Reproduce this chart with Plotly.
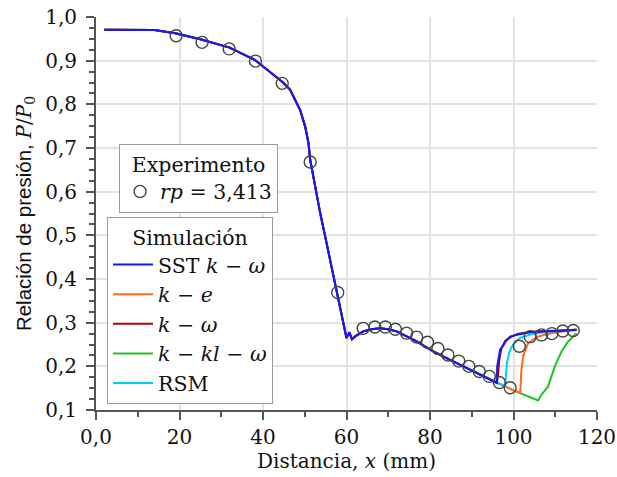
import plotly.graph_objects as go

# ---- Experimental data (rp = 3,413) ----
exp_x = [19.2, 25.4, 31.9, 38.2, 44.6, 51.3, 57.9, 64.0, 66.8, 69.3, 71.7, 74.4, 76.8,
         79.4, 81.9, 84.3, 86.9, 89.3, 91.8, 94.2, 96.6, 99.2, 101.4, 104.0, 106.7,
         109.2, 111.8, 114.3]
exp_y = [0.957, 0.942, 0.927, 0.899, 0.848, 0.668, 0.369, 0.287, 0.290, 0.290, 0.285,
         0.276, 0.267, 0.255, 0.241, 0.226, 0.212, 0.200, 0.188, 0.177, 0.163, 0.151,
         0.246, 0.268, 0.272, 0.275, 0.281, 0.282]

# ---- Common simulated path (all models overlap up to ~96 mm) ----
common_x = [2, 14, 19, 25, 32, 38, 41, 44.8, 46.5, 48.9, 50.1, 50.9, 51.3, 52.5, 53.7,
            54.9, 56.8, 58.4, 60.0, 60.7, 61.3, 62.0, 64.0, 66.0, 68.0, 70.0, 72.0,
            76.8, 80.8, 84.8, 88.8, 92.8, 96.0]
common_y = [0.971, 0.970, 0.963, 0.949, 0.930, 0.902, 0.879, 0.850, 0.833, 0.787, 0.749,
            0.711, 0.673, 0.610, 0.551, 0.497, 0.413, 0.337, 0.265, 0.278, 0.262, 0.268,
            0.280, 0.285, 0.287, 0.285, 0.280, 0.257, 0.234, 0.215, 0.196, 0.178, 0.162]

# ---- Model-specific tails ----
sst_x = [96.1, 96.4, 96.8, 97.6, 98.4, 99.2, 100.8, 104.0, 106.4, 110.0, 115.1]
sst_y = [0.200, 0.219, 0.238, 0.249, 0.261, 0.268, 0.272, 0.278, 0.280, 0.281, 0.283]

kw_x = [96.3, 96.6, 97.1, 98.0, 99.5, 101.0, 104.0, 108.0, 115.1]
kw_y = [0.180, 0.215, 0.240, 0.258, 0.268, 0.274, 0.279, 0.281, 0.284]

rsm_x = [98.0, 98.4, 99.0, 99.6, 100.5, 101.6, 104.0, 108.0, 115.1]
rsm_y = [0.154, 0.207, 0.232, 0.245, 0.258, 0.265, 0.273, 0.279, 0.283]

ke_x = [98.0, 100.0, 101.6, 101.9, 102.3, 103.5, 105.5, 108.0, 112.0, 115.1]
ke_y = [0.154, 0.145, 0.139, 0.192, 0.223, 0.253, 0.267, 0.274, 0.280, 0.285]

kkl_x = [98.0, 100.0, 101.6, 103.5, 105.9, 106.7, 108.3, 109.9, 111.5, 113.1, 115.1]
kkl_y = [0.154, 0.145, 0.139, 0.131, 0.122, 0.135, 0.154, 0.200, 0.234, 0.257, 0.276]

x_tickvals = [0, 20, 40, 60, 80, 100, 120]
x_ticktext = ["0,0", "20", "40", "60", "80", "100", "120"]
y_tickvals = [0.1, 0.2, 0.3, 0.4, 0.5, 0.6, 0.7, 0.8, 0.9, 1.0]
y_ticktext = ["0,1", "0,2", "0,3", "0,4", "0,5", "0,6", "0,7", "0,8", "0,9", "1,0"]

SERIF = "DejaVu Serif"
SANS = "Liberation Sans"

models = [
    # name, tail x, tail y, colour, legend rank (draw order = list order)
    ("<i>k</i> − <i>kl</i> − <i>ω</i>", kkl_x, kkl_y, "#1fc41f", 4),
    ("<i>k</i> − <i>e</i>", ke_x, ke_y, "#ff6a1a", 2),
    ("RSM", rsm_x, rsm_y, "#00d0ff", 5),
    ("<i>k</i> − <i>ω</i>", kw_x, kw_y, "#b00000", 3),
    ("SST <i>k</i> − <i>ω</i>", sst_x, sst_y, "#1515ff", 1),
]

fig = go.Figure()
for name, tx, ty, col, rank in models:
    fig.add_trace(go.Scatter(
        x=common_x + tx, y=common_y + ty, mode="lines", name=name,
        line=dict(color=col, width=2), legendrank=rank, legend="legend"))

fig.add_trace(go.Scatter(
    x=exp_x, y=exp_y, mode="markers", name="<i>rp</i> = 3,413",
    marker=dict(symbol="circle-open", size=12, color="#444444", line=dict(width=1.4)),
    legend="legend2"))

axis_common = dict(
    showline=True, linecolor="#555555", linewidth=2,
    ticks="outside", ticklen=8, tickwidth=1.5, tickcolor="#555555",
    showgrid=True, gridcolor="#e3e3e3", gridwidth=1.5, zeroline=False,
    automargin=False,
    tickfont=dict(family=SERIF, size=20, color="#111111"),
)

fig.update_layout(
    width=617, height=477,
    margin=dict(l=96, r=20, t=17, b=67),
    plot_bgcolor="white", paper_bgcolor="white",
    font=dict(family=SERIF, color="#111111"),
    hovermode=False,
    xaxis=dict(range=[0, 120], tickvals=x_tickvals, ticktext=x_ticktext,
               minor=dict(dtick=10, ticks="outside", ticklen=5, tickcolor="#555555", showgrid=False),
               title=dict(text="Distancia, <i>x</i> (mm)", font=dict(family=SERIF, size=20), standoff=3),
               **axis_common),
    yaxis=dict(range=[0.1, 1.0], tickvals=y_tickvals, ticktext=y_ticktext,
               ticklabelstandoff=5,
               minor=dict(dtick=0.025, tick0=0.1, ticks="outside", ticklen=5, tickcolor="#555555", showgrid=False),
               title=dict(text="Relación de presión, <span style='font-family:DejaVu Serif;font-size:20px'><i>P</i>/<i>P</i><sub>0</sub></span>",
                          font=dict(family=SANS, size=20.5), standoff=8),
               **axis_common),
    legend=dict(
        x=0.022, y=0.491, xanchor="left", yanchor="top",
        bgcolor="white", bordercolor="#9a9a9a", borderwidth=1,
        font=dict(family=SERIF, size=20.5, color="#111111"),
        title=dict(text="Simulación", side="top center", font=dict(family=SERIF, size=20.5)),
        itemwidth=40, tracegroupgap=0,
    ),
    legend2=dict(
        x=0.046, y=0.677, xanchor="left", yanchor="top",
        bgcolor="white", bordercolor="#9a9a9a", borderwidth=1,
        font=dict(family=SERIF, size=20.5, color="#111111"),
        title=dict(text="Experimento", side="top center", font=dict(family=SERIF, size=20.5)),
        itemwidth=30,
    ),
)

fig.write_html("out.html", config={"displayModeBar": False},
               post_script="document.body.style.margin='0';")
